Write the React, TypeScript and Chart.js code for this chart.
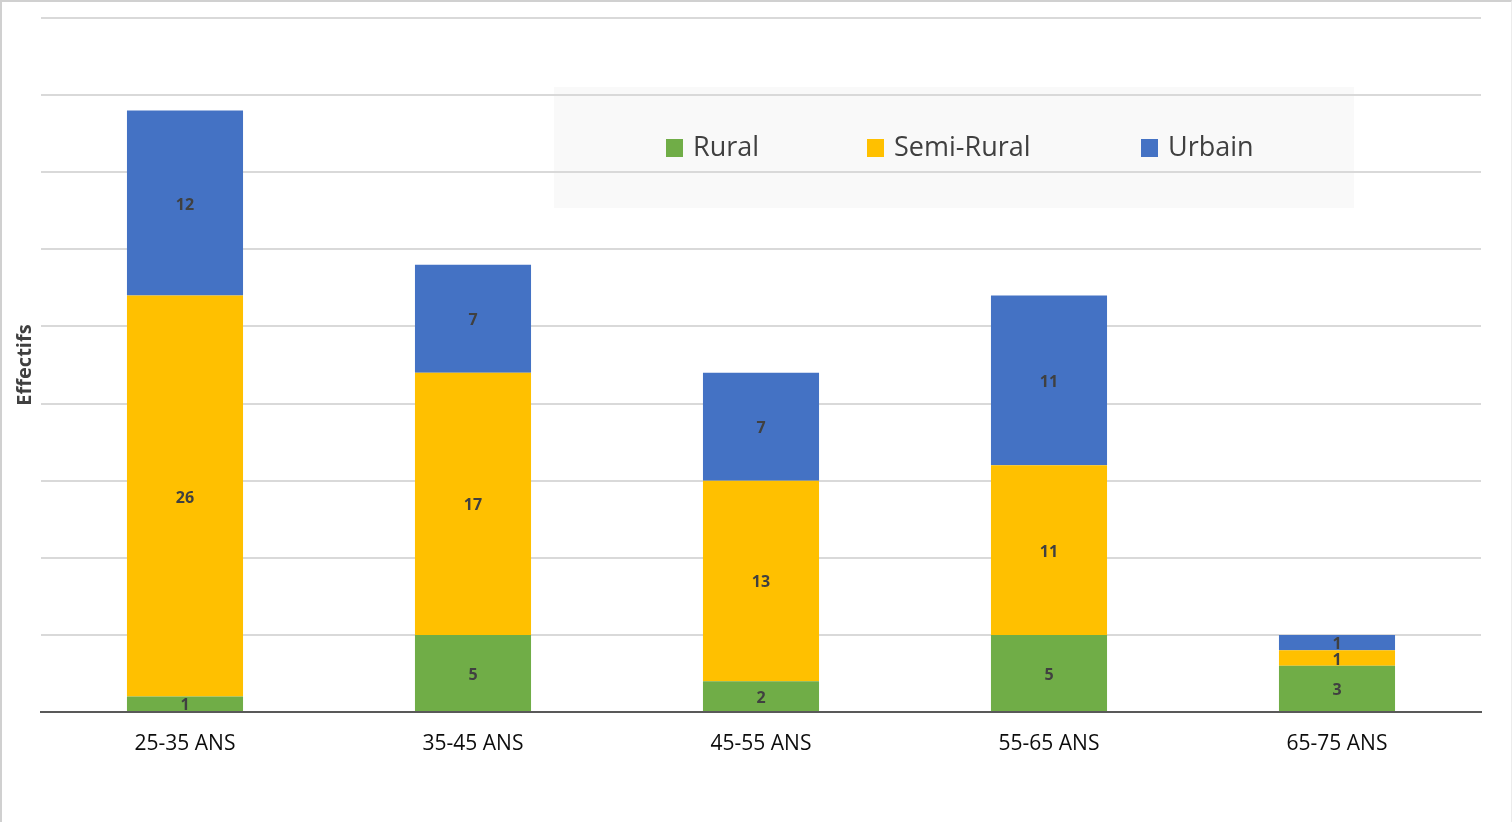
import React, { useEffect, useRef } from "react";
import { Chart, registerables } from "chart.js";

Chart.register(...registerables);

const categories = ["25-35 ANS", "35-45 ANS", "45-55 ANS", "55-65 ANS", "65-75 ANS"];
const rural = [1, 5, 2, 5, 3];
const semiRural = [26, 17, 13, 11, 1];
const urbain = [12, 7, 7, 11, 1];
const seriesNames = ["Rural", "Semi-Rural", "Urbain"];
const seriesColors = ["#70AD47", "#FFC000", "#4472C4"];
const yAxisTitle = "Effectifs";

const FONT = "'Open Sans', 'Noto Sans', sans-serif";

const legendBoxPlugin = {
  id: "legendBox",
  beforeDraw(chart: any) {
    const ctx = chart.ctx;
    ctx.save();
    ctx.fillStyle = "#f9f9f9";
    ctx.fillRect(554, 87, 800, 121);
    ctx.restore();
  },
  afterDraw(chart: any) {
    const ctx = chart.ctx;
    ctx.save();
    const items = [
      { x: 666, label: seriesNames[0], color: seriesColors[0] },
      { x: 867, label: seriesNames[1], color: seriesColors[1] },
      { x: 1141, label: seriesNames[2], color: seriesColors[2] },
    ];
    ctx.font = `27px ${FONT}`;
    ctx.textBaseline = "middle";
    ctx.textAlign = "left";
    items.forEach((it) => {
      ctx.fillStyle = it.color;
      ctx.fillRect(it.x, 139, 17, 18);
      ctx.fillStyle = "#404040";
      ctx.fillText(it.label, it.x + 27, 148.5);
    });
    const ca = chart.chartArea;
    ctx.translate(25, (ca.top + ca.bottom) / 2);
    ctx.rotate(-Math.PI / 2);
    ctx.textAlign = "center";
    ctx.font = `bold 20px ${FONT}`;
    ctx.fillStyle = "#404040";
    ctx.fillText(yAxisTitle, 0, 0);
    ctx.restore();
  },
};

const dataLabelPlugin = {
  id: "dataLabels",
  afterDatasetsDraw(chart: any) {
    const ctx = chart.ctx;
    ctx.save();
    ctx.font = `bold 16px ${FONT}`;
    ctx.fillStyle = "#404040";
    ctx.textAlign = "center";
    ctx.textBaseline = "middle";
    chart.data.datasets.forEach((ds: any, di: number) => {
      const meta = chart.getDatasetMeta(di);
      meta.data.forEach((bar: any, i: number) => {
        const v = ds.data[i];
        if (!v) return;
        const cy = (bar.y + bar.base) / 2;
        ctx.fillText(String(v), bar.x, cy + 2);
      });
    });
    ctx.restore();
  },
};

export default function App() {
  const ref = useRef<HTMLCanvasElement | null>(null);

  useEffect(() => {
    document.body.style.margin = "0";
    if (!ref.current) return;
    const chart = new Chart(ref.current, {
      type: "bar",
      data: {
        labels: categories,
        datasets: [
          { label: seriesNames[0], data: rural, backgroundColor: seriesColors[0] },
          { label: seriesNames[1], data: semiRural, backgroundColor: seriesColors[1] },
          { label: seriesNames[2], data: urbain, backgroundColor: seriesColors[2] },
        ],
      },
      options: {
        animation: false,
        responsive: false,
        maintainAspectRatio: false,
        layout: { padding: { left: 0, right: 31, top: 18, bottom: 0 } },
        datasets: { bar: { categoryPercentage: 1, barPercentage: 0.403 } },
        plugins: {
          legend: { display: false },
          tooltip: { enabled: false },
        },
        scales: {
          x: {
            stacked: true,
            grid: { display: false, drawTicks: false },
            border: { display: true, color: "#595959", width: 2 },
            ticks: {
              padding: 19,
              color: "#0d0d0d",
              font: { family: FONT, size: 21 },
            },
            afterFit: (s: any) => {
              s.height = 110;
            },
          },
          y: {
            stacked: true,
            min: 0,
            max: 45,
            ticks: { display: false, stepSize: 5 },
            grid: { color: "#d9d9d9", lineWidth: 2, drawTicks: false },
            border: { display: false },
            afterFit: (s: any) => {
              s.width = 41;
            },
          },
        },
      },
      plugins: [legendBoxPlugin, dataLabelPlugin],
    });
    return () => chart.destroy();
  }, []);

  return (
    <div
      style={{
        position: "relative",
        width: 1512,
        height: 822,
        boxSizing: "border-box",
        overflow: "hidden",
      }}
    >
      <canvas ref={ref} width={1512} height={822} style={{ display: "block" }} />
      <div
        style={{
          position: "absolute",
          left: 0,
          top: 0,
          width: 1512,
          height: 822,
          boxSizing: "border-box",
          borderLeft: "2px solid #d0d0d0",
          borderTop: "2px solid #d0d0d0",
          borderRight: "1px solid #ececec",
          pointerEvents: "none",
        }}
      />
    </div>
  );
}
